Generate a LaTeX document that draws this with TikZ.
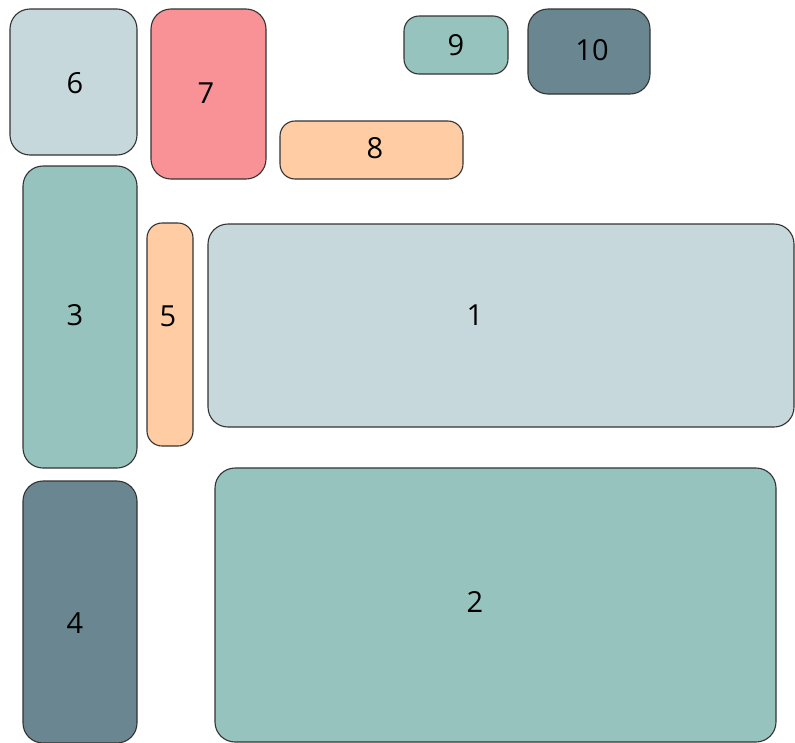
\documentclass[tikz,border=0pt]{standalone}
\usepackage{fontspec}
\setmainfont{Open Sans}
\usepackage{xcolor}
\usepackage{tikz}
\usetikzlibrary{positioning}

\definecolor{paleblue}{HTML}{C7D8DC}
\definecolor{seagreen}{HTML}{96C3BD}
\definecolor{slate}{HTML}{6A8791}
\definecolor{rose}{HTML}{F99297}
\definecolor{peach}{HTML}{FFCCA3}

\begin{document}
\begin{tikzpicture}[
  x=1pt, y=-1pt,
  tile/.style 2 args={draw=black!80, line width=1.1pt, rectangle, rounded corners=20pt,
    inner sep=0pt, outer sep=0pt, anchor=north west, minimum width=#1pt, minimum height=#2pt},
  small/.style={rounded corners=15pt},
  num/.style={inner sep=0pt, font=\fontsize{29}{32}\selectfont}
]
\useasboundingbox (0,0) rectangle (795,742);
% top row
\node[tile={127}{146}, fill=paleblue] (t6) at (10,9) {};
\node[tile={115}{170}, fill=rose] (t7) at (151,9) {};
\node[tile={183}{58}, fill=peach, small] (t8) at (280,121) {};
\node[tile={104}{58}, fill=seagreen, small] (t9) at (404,16) {};
\node[tile={122}{85}, fill=slate] (t10) at (528,9) {};
% middle
\node[tile={114}{302}, fill=seagreen] (t3) at (23,166) {};
\node[tile={46}{223}, fill=peach, small] (t5) at (147,223) {};
\node[tile={586}{203}, fill=paleblue] (t1) at (208,224) {};
% bottom
\node[tile={114}{262}, fill=slate] (t4) at (23,481) {};
\node[tile={561}{274}, fill=seagreen] (t2) at (215,468) {};
% numbers
\node[num] (l1) at (475,315) {1};
\node[num] (l2) at (475,602) {2};
\node[num] (l3) at (75,315) {3};
\node[num] (l4) at (75,623) {4};
\node[num] (l5) at (168,316) {5};
\node[num] (l6) at (75,83) {6};
\node[num] (l7) at (206,93) {7};
\node[num] (l8) at (375,148) {8};
\node[num] (l9) at (456,45) {9};
\node[num] (l10) at (592,50) {10};
\end{tikzpicture}
\end{document}
